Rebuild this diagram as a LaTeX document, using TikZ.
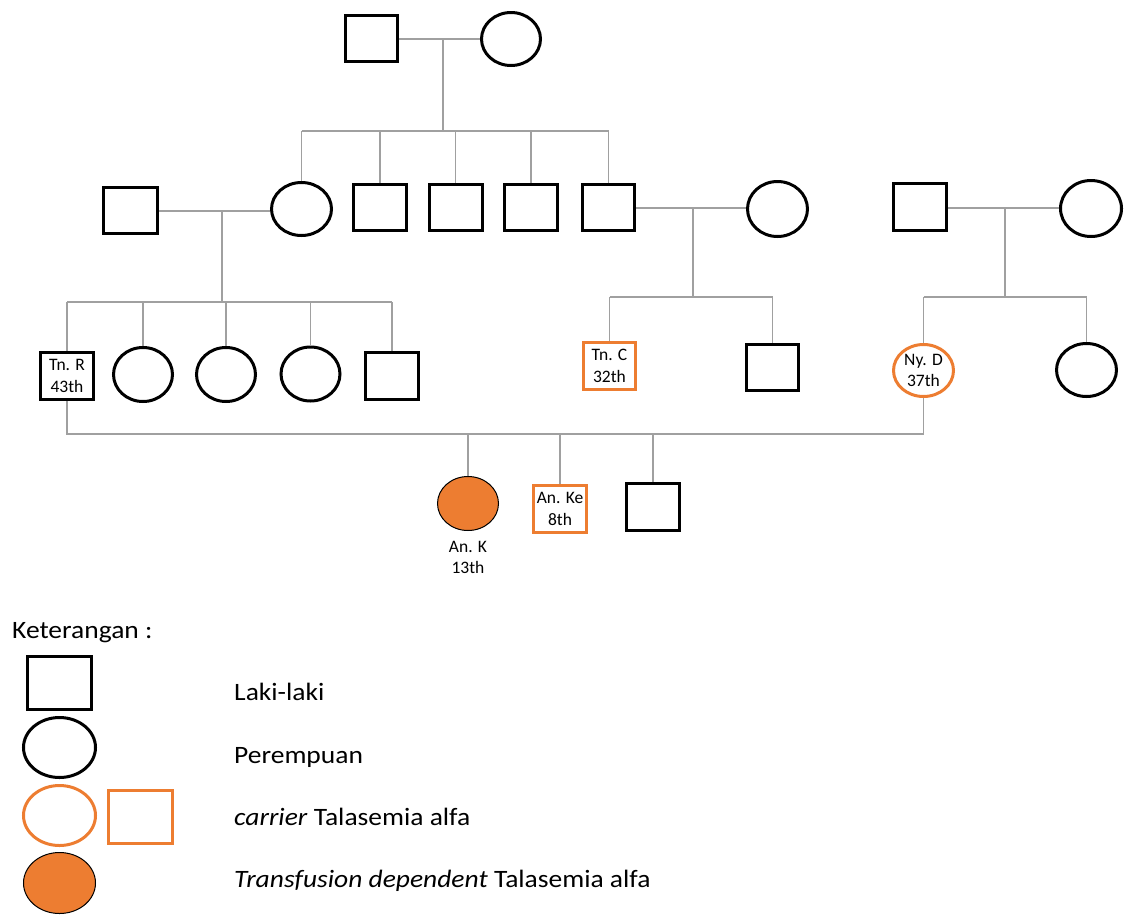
\documentclass[tikz,border=0pt]{standalone}
\usepackage{fontspec}
\setmainfont{Carlito}
\newfontfamily\legendfont{Carlito}[FakeStretch=1.1]
\usetikzlibrary{shapes.geometric}
\definecolor{carrierorange}{HTML}{ED7D31}
\definecolor{linkgray}{HTML}{A0A0A0}

\begin{document}
\begin{tikzpicture}[x=1pt,y=-1pt,
  person/.style={line width=3pt,inner sep=0pt,align=center,
    font=\fontsize{17.5}{21.5}\selectfont},
  male/.style={person,draw=black,rectangle,minimum width=53pt,minimum height=47pt},
  female/.style={person,draw=black,ellipse,minimum width=59pt,minimum height=53pt},
  carrier/.style={draw=carrierorange},
  affected/.style={draw=black,line width=1pt,fill=carrierorange},
  link/.style={draw=linkgray,line width=1.5pt},
  legendtext/.style={anchor=base west,inner sep=0pt,font=\legendfont\fontsize{25}{30}\selectfont},
  tag/.style={align=center,inner sep=0pt,font=\fontsize{17.5}{21.5}\selectfont}]
\useasboundingbox (0,0) rectangle (1127,916);

% ---------- generation I ----------
\node[male,minimum width=52pt,minimum height=46pt] (g1m) at (371.5,38) {};
\node[female] (g1f) at (511,39) {};

% ---------- generation II ----------
\node[male,minimum width=54pt,minimum height=46pt] (h1) at (130.5,210.5) {};
\node[female,minimum width=60pt] (d1) at (301.5,209) {};
\node[male,minimum height=46pt] (s1) at (380,207.5) {};
\node[male,minimum height=46pt] (s2) at (455.5,207.5) {};
\node[male,minimum height=46pt] (s3) at (531,207.5) {};
\node[male,minimum width=52pt,minimum height=46pt] (s4) at (608.5,207.5) {};
\node[female,minimum width=60pt,minimum height=55pt] (w4) at (777.5,209) {};
\node[male] (rm) at (920,207) {};
\node[female,minimum width=61pt,minimum height=56pt] (rf) at (1091,208.5) {};

% ---------- generation III ----------
\node[male] (tnR) at (67,376) {Tn. R\\43th};
\node[female,minimum height=54pt] (c1) at (143,374.5) {};
\node[female,minimum height=54pt] (c2) at (226,374.5) {};
\node[female,minimum height=54pt] (c3) at (310.5,374) {};
\node[male] (sq) at (392,376) {};
\node[male,carrier,minimum width=52pt] (tnC) at (609.5,366) {Tn. C\\32th};
\node[male,minimum width=52pt,minimum height=46pt] (sq2) at (772.5,367) {};
\node[female,carrier,minimum width=60pt,minimum height=52pt] (nyD) at (923.5,370.5) {Ny. D\\37th};
\node[female,minimum width=60pt] (c4) at (1086.5,370) {};

% ---------- generation IV ----------
\node[female,affected,minimum width=61pt,minimum height=54pt] (anK) at (468,503.5) {};
\node[tag] (anKlabel) at (468,557.5) {An. K\\13th};
\node[male,carrier] (anKe) at (560,509) {An. Ke\\8th};
\node[male] (sq3) at (653,507) {};

% ---------- helper coordinates ----------
\coordinate (j1) at (443,39);
\coordinate (bar1) at (0,131);
\coordinate (j2) at (222,211);
\coordinate (bar2) at (0,302);
\coordinate (j3) at (693,208);
\coordinate (bar3) at (0,297);
\coordinate (j4) at (1005,208);
\coordinate (bar4) at (0,297);
\coordinate (bar5) at (0,434);

% ---------- connectors ----------
% first couple and their children
\draw[link] (g1m.east |- j1) -- (g1f.west);
\draw[link] (j1) -- (j1 |- bar1);
\draw[link] (d1.north |- bar1) -- (s4.north |- bar1);
\foreach \n in {d1,s1,s2,s3,s4}
  \draw[link] (\n.north) -- (\n.north |- bar1);

% left couple of generation II
\draw[link] (h1.east |- j2) -- (d1.west |- j2);
\draw[link] (j2) -- (j2 |- bar2);
\draw[link] (tnR.north |- bar2) -- (sq.north |- bar2);
\foreach \n in {tnR,c1,c2,c3,sq}
  \draw[link] (\n.north) -- (\n.north |- bar2);

% middle couple of generation II
\draw[link] (s4.east |- j3) -- (w4.west |- j3);
\draw[link] (j3) -- (j3 |- bar3);
\draw[link] (tnC.north |- bar3) -- (sq2.north |- bar3);
\foreach \n in {tnC,sq2}
  \draw[link] (\n.north) -- (\n.north |- bar3);

% right couple of generation II
\draw[link] (rm.east |- j4) -- (rf.west |- j4);
\draw[link] (j4) -- (j4 |- bar4);
\draw[link] (nyD.north |- bar4) -- (c4.north |- bar4);
\foreach \n in {nyD,c4}
  \draw[link] (\n.north) -- (\n.north |- bar4);

% couple of generation III and their children
\draw[link] (tnR.south) -- (tnR.south |- bar5) -- (nyD.south |- bar5) -- (nyD.south);
\foreach \n in {anK,anKe,sq3}
  \draw[link] (\n.north) -- (\n.north |- bar5);

% ---------- legend ----------
\node[legendtext] (ket) at (12,638) {Keterangan :};
\node[male,minimum width=64pt,minimum height=53pt] (lm) at (59.5,683) {};
\node[female,minimum width=72pt,minimum height=60pt] (lf) at (59.5,747.5) {};
\node[female,carrier,minimum width=72pt,minimum height=60pt] (lcf) at (59.5,815.5) {};
\node[male,carrier,minimum width=64pt,minimum height=53pt] (lcm) at (140.5,817) {};
\node[female,affected,minimum width=72pt,minimum height=61pt] (la) at (59.5,883) {};

\node[legendtext] (tm) at (234,700) {Laki-laki};
\node[legendtext] (tf) at (234,763) {Perempuan};
\node[legendtext] (tc) at (234,825) {\textit{carrier} Talasemia alfa};
\node[legendtext] (ta) at (234,887) {\textit{Transfusion dependent} Talasemia alfa};
\end{tikzpicture}
\end{document}
